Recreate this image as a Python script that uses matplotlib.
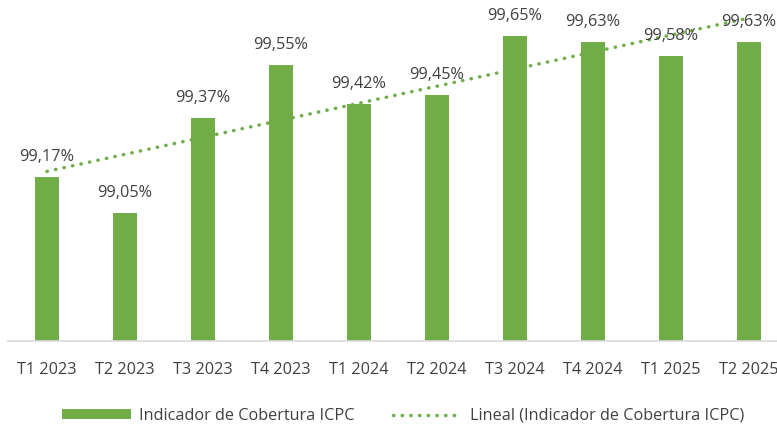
import matplotlib
matplotlib.use("Agg")
import matplotlib.pyplot as plt
from matplotlib.patches import Patch
from matplotlib.lines import Line2D

# data
quarters = ["T1 2023", "T2 2023", "T3 2023", "T4 2023", "T1 2024",
            "T2 2024", "T3 2024", "T4 2024", "T1 2025", "T2 2025"]
coverage = [99.17, 99.05, 99.37, 99.55, 99.42, 99.45, 99.65, 99.63, 99.58, 99.63]
trend_ends = [99.19, 99.71]   # linear trend at first and last quarter

green = "#70AD47"
grey_txt = "#404040"

plt.rcParams['font.family'] = ['Open Sans', 'DejaVu Sans']

fig = plt.figure(figsize=(7.77, 4.28), dpi=100)
ax = fig.add_axes([8 / 777, 87 / 428, 780 / 777, 341 / 428])

x = list(range(len(quarters)))
bars = ax.bar(x, coverage, width=0.31, color=green, bottom=0)
ax.plot([x[0], x[-1]], trend_ends, color=green, lw=2.5,
        linestyle=(0, (0.1, 2.4)), dash_capstyle='round', zorder=3)

for xi, v in zip(x, coverage):
    ax.annotate(f"{v:.2f}".replace(".", ",") + "%", (xi, v),
                xytext=(0, 11.5), textcoords="offset points",
                ha="center", va="baseline", fontsize=11.7, color=grey_txt)

ymin = 98.615
ax.set_ylim(ymin, ymin + 341 / 295)
ax.set_xlim(-0.5, 9.5)
ax.set_xticks(x)
ax.set_xticklabels(quarters, fontsize=11.7, color=grey_txt)
ax.tick_params(axis="x", length=0, pad=15)
ax.set_yticks([])
for s in ["top", "right", "left"]:
    ax.spines[s].set_visible(False)
ax.spines["bottom"].set_color("#D9D9D9")
ax.spines["bottom"].set_linewidth(1.2)

handles = [Patch(facecolor=green),
           Line2D([], [], color=green, lw=2.5, linestyle=(0, (0.1, 2.4)),
                  dash_capstyle='round')]
labels = ["Indicador de Cobertura ICPC", "Lineal (Indicador de Cobertura ICPC)"]
fig.legend(handles, labels, loc="center", bbox_to_anchor=(403 / 777, 12 / 428),
           ncol=2, frameon=False, fontsize=11.7, labelcolor=grey_txt,
           handlelength=4.2, handleheight=0.6, handletextpad=0.5,
           columnspacing=2.4)

fig.savefig("out.png", dpi=100)
